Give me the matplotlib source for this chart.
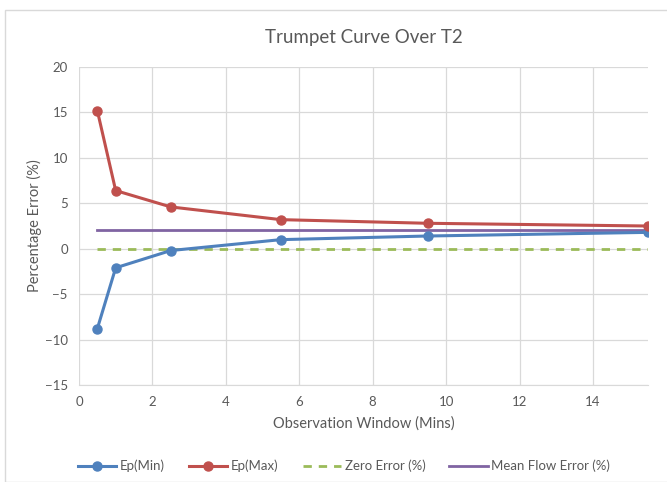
import matplotlib.pyplot as plt
from matplotlib.patches import Rectangle

# observation window (mins) and error bounds (%)
window = [0.5, 1, 2.5, 5.5, 9.5, 15.5]
ep_min = [-8.8, -2.1, -0.2, 1.0, 1.4, 1.8]
ep_max = [15.2, 6.4, 4.6, 3.2, 2.8, 2.5]
zero_err = [0, 0]
mean_flow_err = [2.1, 2.1]
line_x = [0.5, 15.5]

plt.rcParams['font.family'] = ['Lato', 'DejaVu Sans']

fig = plt.figure(figsize=(6.67, 4.82), dpi=100)
ax = fig.add_axes([0.1184, 0.2012, 0.8531, 0.6598])

# outer chart frame
fig.patches.append(Rectangle((5 / 667, 0.0), 1.0, 1 - 10 / 482, transform=fig.transFigure,
                             fill=False, edgecolor='#d9d9d9', linewidth=1.0))

ax.plot(window, ep_min, color='#4F81BD', lw=2.2, marker='o', ms=6.5, label='Ep(Min)', zorder=4)
ax.plot(window, ep_max, color='#C0504D', lw=2.2, marker='o', ms=6.5, label='Ep(Max)', zorder=4)
ax.plot(line_x, zero_err, color='#9BBB59', lw=2.0, ls=(0, (3, 2.5)), label='Zero Error (%)', zorder=3)
ax.plot(line_x, mean_flow_err, color='#8064A2', lw=2.0, label='Mean Flow Error (%)', zorder=3)

ax.set_xlim(0, 15.5)
ax.set_ylim(-15, 20)
ax.set_xticks(range(0, 15, 2))
ax.set_yticks(range(-15, 21, 5))
ax.grid(color='#d9d9d9', lw=0.9)
ax.set_axisbelow(True)
for s in ax.spines.values():
    s.set_visible(False)
ax.spines['bottom'].set_visible(True)
ax.spines['bottom'].set_color('#d9d9d9')
ax.tick_params(length=0, colors='#595959', labelsize=9.5, pad=8)

ax.set_title('Trumpet Curve Over T2', fontsize=13.5, color='#595959', pad=17)
ax.set_xlabel('Observation Window (Mins)', fontsize=10.5, color='#595959', labelpad=6)
ax.set_ylabel('Percentage Error (%)', fontsize=10.5, color='#595959', labelpad=2)

leg = fig.legend(loc='center', bbox_to_anchor=(0.516, 0.033), ncol=4, frameon=False,
                 fontsize=9.5, handlelength=2.9, columnspacing=1.8, handletextpad=0.3)
for t in leg.get_texts():
    t.set_color('#595959')

fig.savefig('out.png', dpi=100)
